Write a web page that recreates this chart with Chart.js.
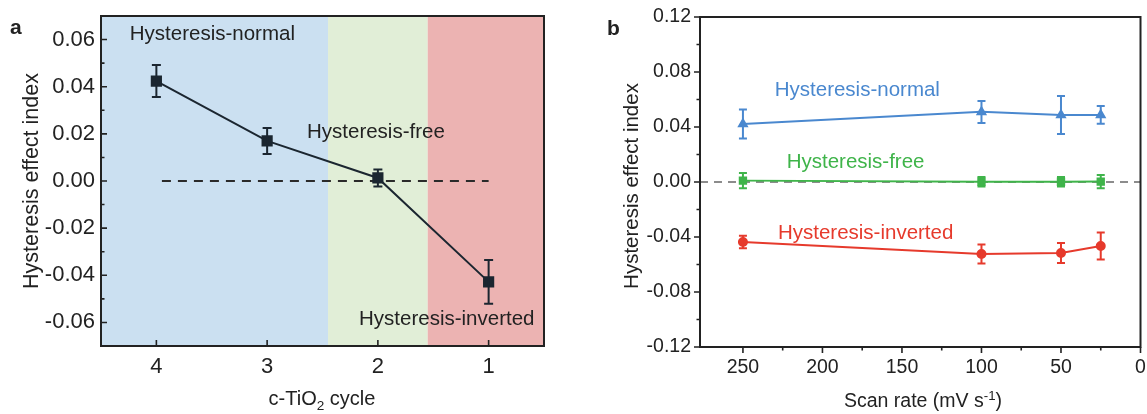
<!DOCTYPE html>
<html>
<head>
<meta charset="utf-8">
<script src="https://cdn.jsdelivr.net/npm/chart.js@4.4.1/dist/chart.umd.min.js"></script>
<style>
  body { margin: 0; background: #fff; width: 1147px; height: 414px; overflow: hidden; position: relative; }
  #chartA { position: absolute; left: 0; top: 0; }
  #chartB { position: absolute; left: 575px; top: 0; }
</style>
</head>
<body>
<canvas id="chartA" width="560" height="414"></canvas>
<canvas id="chartB" width="572" height="414"></canvas>
<script>
// ---------------- panel a data ----------------
const cycles = [4, 3, 2, 1];
const cycleIndex = [0.0424, 0.0170, 0.0013, -0.0428];
const cycleErr = [0.0068, 0.0055, 0.0036, 0.0093];
const cycleTicks = [4, 3, 2, 1];
const indexTicksA = [-0.06, -0.04, -0.02, 0, 0.02, 0.04, 0.06];
const bandEdges = [4.5, 2.45, 1.55, 0.5];
const bandColors = ["#cbe0f1", "#e1eed7", "#ecb3b2"];

// ---------------- panel b data ----------------
const scanRates = [250, 100, 50, 25];
const normalIdx = [0.0422, 0.0510, 0.0487, 0.0488];
const normalErr = [0.0105, 0.0080, 0.0138, 0.0065];
const freeIdx = [0.0010, 0.0002, 0.0002, 0.0003];
const freeErr = [0.0056, 0.0034, 0.0035, 0.0048];
const invertedIdx = [-0.0436, -0.0524, -0.0516, -0.0465];
const invertedErr = [0.0046, 0.0069, 0.0073, 0.0098];
const rateTicks = [250, 200, 150, 100, 50, 0];
const indexTicksB = [-0.12, -0.08, -0.04, 0, 0.04, 0.08, 0.12];

const FONT = "'Liberation Sans', Arial, sans-serif";
const INK = "#222";

const toPoints = (xs, ys) => xs.map((x, i) => ({ x: x, y: ys[i] }));
const midpoints = (arr) => arr.slice(1).map((v, i) => (v + arr[i]) / 2);

// -----------------------------
// text helper (sub / superscript)
// -----------------------------
function drawRich(ctx, parts, cx, baseline, size) {
    const small = size * 0.68;
    let total = 0;
    parts.forEach(p => {
        ctx.font = (p.sub || p.sup ? small : size) + "px " + FONT;
        p.w = ctx.measureText(p.t).width;
        total += p.w;
    });
    let x = cx - total / 2;
    ctx.textAlign = "left";
    ctx.textBaseline = "alphabetic";
    parts.forEach(p => {
        ctx.font = (p.sub || p.sup ? small : size) + "px " + FONT;
        let y = baseline;
        if (p.sub) y += size * 0.25;
        if (p.sup) y -= size * 0.38;
        ctx.fillText(p.t, x, y);
        x += p.w;
    });
}

// -----------------------------
// decoration plugin per panel
// -----------------------------
function makeDecor(cfg) {
    return {
        id: "decor",
        beforeDatasetsDraw(chart) {
            if (!cfg.bands) return;
            const { ctx, chartArea: a, scales: { x } } = chart;
            ctx.save();
            cfg.bands.colors.forEach((c, i) => {
                const x1 = x.getPixelForValue(cfg.bands.edges[i]);
                const x2 = x.getPixelForValue(cfg.bands.edges[i + 1]);
                ctx.fillStyle = c;
                ctx.fillRect(Math.min(x1, x2), a.top, Math.abs(x2 - x1), a.height);
            });
            ctx.restore();
        },
        afterDatasetsDraw(chart) {
            const { ctx, scales: { x, y } } = chart;
            ctx.save();
            chart.data.datasets.forEach(ds => {
                if (!ds.errors) return;
                ctx.strokeStyle = ds.borderColor;
                ctx.lineWidth = cfg.errWidth;
                ds.data.forEach((p, j) => {
                    const px = x.getPixelForValue(p.x);
                    const top = y.getPixelForValue(p.y + ds.errors[j]);
                    const bot = y.getPixelForValue(p.y - ds.errors[j]);
                    ctx.beginPath();
                    ctx.moveTo(px, top); ctx.lineTo(px, bot);
                    ctx.moveTo(px - cfg.cap, top); ctx.lineTo(px + cfg.cap, top);
                    ctx.moveTo(px - cfg.cap, bot); ctx.lineTo(px + cfg.cap, bot);
                    ctx.stroke();
                });
            });
            ctx.restore();
        },
        afterDraw(chart) {
            const { ctx, chartArea: a, scales: { x, y } } = chart;
            ctx.save();

            // ticks
            const dir = cfg.inward ? 1 : -1;
            ctx.strokeStyle = INK;
            ctx.lineWidth = 1.6;
            ctx.beginPath();
            cfg.xMajor.forEach(v => {
                const px = x.getPixelForValue(v);
                ctx.moveTo(px, a.bottom); ctx.lineTo(px, a.bottom - dir * cfg.major);
            });
            cfg.xMinor.forEach(v => {
                const px = x.getPixelForValue(v);
                ctx.moveTo(px, a.bottom); ctx.lineTo(px, a.bottom - dir * cfg.minor);
            });
            cfg.yMajor.forEach(v => {
                const py = y.getPixelForValue(v);
                ctx.moveTo(a.left, py); ctx.lineTo(a.left + dir * cfg.major, py);
            });
            cfg.yMinor.forEach(v => {
                const py = y.getPixelForValue(v);
                ctx.moveTo(a.left, py); ctx.lineTo(a.left + dir * cfg.minor, py);
            });
            ctx.stroke();

            // frame
            ctx.lineWidth = 2;
            ctx.strokeStyle = INK;
            ctx.strokeRect(a.left, a.top, a.width, a.height);

            // annotations
            ctx.textAlign = "left";
            ctx.textBaseline = "middle";
            ctx.font = cfg.noteSize + "px " + FONT;
            cfg.notes.forEach(n => {
                ctx.fillStyle = n.color;
                ctx.fillText(n.text, x.getPixelForValue(n.x), y.getPixelForValue(n.y));
            });

            // axis titles
            ctx.fillStyle = INK;
            ctx.save();
            ctx.translate(cfg.yTitle.x, cfg.yTitle.y);
            ctx.rotate(-Math.PI / 2);
            ctx.textAlign = "center";
            ctx.textBaseline = "middle";
            ctx.font = cfg.yTitle.size + "px " + FONT;
            ctx.fillText(cfg.yTitle.text, 0, 0);
            ctx.restore();
            drawRich(ctx, cfg.xTitle.parts, cfg.xTitle.x, cfg.xTitle.y, cfg.xTitle.size);

            // panel letter
            ctx.font = "bold 21px " + FONT;
            ctx.textAlign = "left";
            ctx.textBaseline = "alphabetic";
            ctx.fillText(cfg.letter.text, cfg.letter.x, cfg.letter.y);

            ctx.restore();
        }
    };
}

function baseScales(xMin, xMax, xTicks, yMin, yMax, yTicks, yWidth, xHeight, tickSize, xPad, yPad) {
    return {
        x: {
            type: "linear", reverse: true, min: xMin, max: xMax,
            grid: { display: false, drawTicks: false },
            border: { display: false },
            afterBuildTicks: s => { s.ticks = xTicks.map(v => ({ value: v })); },
            afterFit: s => { s.height = xHeight; s.paddingLeft = 0; s.paddingRight = 0; },
            ticks: { color: INK, font: { family: FONT, size: tickSize }, padding: xPad, maxRotation: 0, autoSkip: false,
                     callback: v => String(v) }
        },
        y: {
            type: "linear", min: yMin, max: yMax,
            grid: { display: false, drawTicks: false },
            border: { display: false },
            afterBuildTicks: s => { s.ticks = yTicks.map(v => ({ value: v })); },
            afterFit: s => { s.width = yWidth; s.paddingTop = 0; s.paddingBottom = 0; },
            ticks: { color: INK, font: { family: FONT, size: tickSize }, padding: yPad,
                     callback: v => (Math.abs(v) < 1e-9 ? 0 : v).toFixed(2) }
        }
    };
}

// ----------------------------------
// PANEL A
// ----------------------------------
new Chart(document.getElementById("chartA"), {
    type: "scatter",
    data: {
        datasets: [
            {
                data: toPoints(cycles, cycleIndex),
                errors: cycleErr,
                showLine: true,
                borderColor: "#1b2630",
                backgroundColor: "#1b2630",
                borderWidth: 2,
                pointStyle: "rect",
                pointRadius: 6.5,
                order: 1
            },
            {
                data: [{ x: 3.95, y: 0 }, { x: 1, y: 0 }],
                showLine: true,
                borderColor: "#2a2a2a",
                borderWidth: 2,
                borderDash: [9, 7],
                pointRadius: 0,
                order: 2
            }
        ]
    },
    options: {
        responsive: false,
        animation: false,
        layout: { padding: { top: 16, right: 16, left: 0, bottom: 0 } },
        plugins: { legend: { display: false }, tooltip: { enabled: false } },
        scales: baseScales(0.5, 4.5, cycleTicks, -0.07, 0.07, indexTicksA, 101, 68, 22, 8, 6)
    },
    plugins: [makeDecor({
        bands: { edges: bandEdges, colors: bandColors },
        inward: true, major: 6, minor: 3.5,
        xMajor: cycleTicks, xMinor: [],
        yMajor: indexTicksA, yMinor: midpoints(indexTicksA),
        errWidth: 2, cap: 4.5,
        noteSize: 20.5,
        notes: [
            { text: "Hysteresis-normal", x: 4.24, y: 0.0621, color: INK },
            { text: "Hysteresis-free", x: 2.64, y: 0.0208, color: INK },
            { text: "Hysteresis-inverted", x: 2.17, y: -0.0585, color: INK }
        ],
        yTitle: { text: "Hysteresis effect index", x: 32, y: 181, size: 21.5 },
        xTitle: { parts: [{ t: "c-TiO" }, { t: "2", sub: true }, { t: " cycle" }], x: 322, y: 405, size: 20 },
        letter: { text: "a", x: 10, y: 34 }
    })]
});

// ----------------------------------
// PANEL B
// ----------------------------------
const seriesB = [
    { vals: normalIdx, err: normalErr, color: "#4a88cf", style: "triangle", r: 4.5 },
    { vals: freeIdx, err: freeErr, color: "#3fb44a", style: "rect", r: 4.5 },
    { vals: invertedIdx, err: invertedErr, color: "#e63a2c", style: "circle", r: 4 }
];

const datasetsB = seriesB.map((s, i) => ({
    data: toPoints(scanRates, s.vals),
    errors: s.err,
    showLine: true,
    borderColor: s.color,
    backgroundColor: s.color,
    borderWidth: 2,
    pointStyle: s.style,
    pointRadius: s.r,
    order: 1
}));
datasetsB.push({
    data: [{ x: 277, y: 0 }, { x: 0, y: 0 }],
    showLine: true,
    borderColor: "#8c8c8c",
    borderWidth: 2,
    borderDash: [8, 6],
    pointRadius: 0,
    order: 2
});

new Chart(document.getElementById("chartB"), {
    type: "scatter",
    data: { datasets: datasetsB },
    options: {
        responsive: false,
        animation: false,
        layout: { padding: { top: 17, right: 4, left: 0, bottom: 0 } },
        plugins: { legend: { display: false }, tooltip: { enabled: false } },
        scales: baseScales(0, 277, rateTicks, -0.12, 0.12, indexTicksB, 125, 67, 19.5, 9, 9)
    },
    plugins: [makeDecor({
        bands: null,
        inward: false, major: 6, minor: 3.5,
        xMajor: rateTicks, xMinor: midpoints(rateTicks),
        yMajor: indexTicksB, yMinor: midpoints(indexTicksB),
        errWidth: 2, cap: 4,
        noteSize: 20.5,
        notes: [
            { text: "Hysteresis-normal", x: 230, y: 0.0669, color: "#4a88cf" },
            { text: "Hysteresis-free", x: 222.5, y: 0.0145, color: "#3fb44a" },
            { text: "Hysteresis-inverted", x: 228, y: -0.0371, color: "#e63a2c" }
        ],
        yTitle: { text: "Hysteresis effect index", x: 57, y: 186, size: 20.5 },
        xTitle: { parts: [{ t: "Scan rate (mV s" }, { t: "-1", sup: true }, { t: ")" }], x: 348, y: 407, size: 19.5 },
        letter: { text: "b", x: 32, y: 35 }
    })]
});
</script>
</body>
</html>
